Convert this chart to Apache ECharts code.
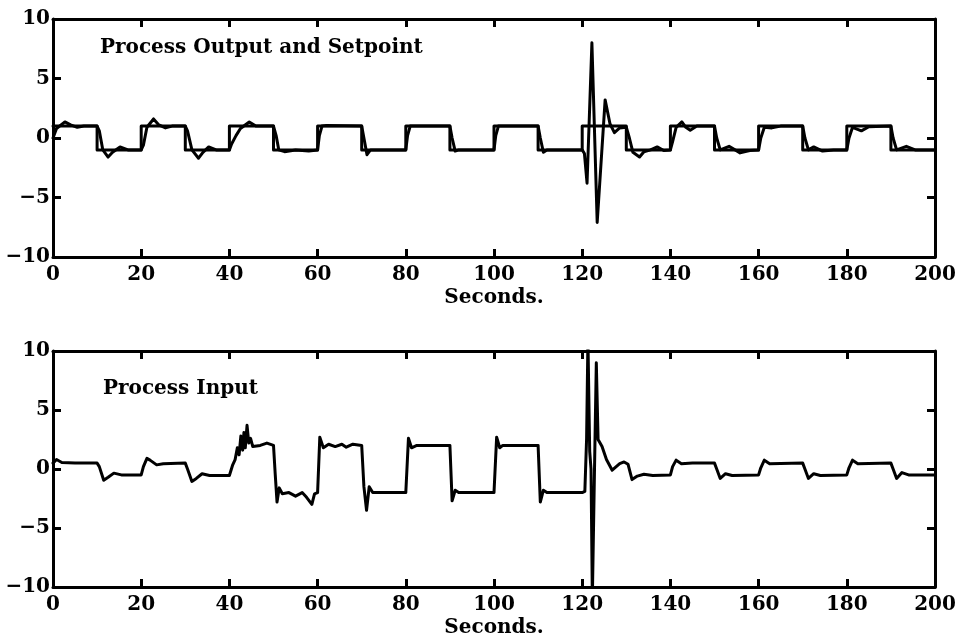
<!DOCTYPE html>
<html>
<head>
<meta charset="utf-8">
<script src="https://cdn.jsdelivr.net/npm/echarts@6/dist/echarts.min.js"></script>
<style>
  html, body { margin: 0; padding: 0; background: #fff; }
  #chart { width: 963px; height: 640px; }
</style>
</head>
<body>
<div id="chart"></div>
<script>
// Setpoint: square wave, level held from each switch time until the next
const setpointSwitchTimes = [0, 10, 20, 30, 40, 50, 60, 70, 80, 90, 100, 110, 120, 130, 140, 150, 160, 170, 180, 190, 200];
const setpointLevels      = [1, -1, 1, -1, 1, -1, 1, -1, 1, -1, 1, -1, 1, -1, 1, -1, 1, -1, 1, -1, -1];

// Process output (seconds, value)
const outputTimes = [
  0, 0.8, 2.7, 4, 5.5, 7, 10, 10.5, 11.3, 12.5, 13.5, 15.2, 17, 20,
  20.5, 21.3, 22.8, 24, 25.5, 27, 30, 30.5, 31.5, 33, 34, 35.3, 37, 40,
  40.5, 41.5, 42.5, 44.5, 46, 50, 50.6, 51.2, 52.5, 55, 58, 60,
  60.4, 61, 62, 70, 70.5, 71.2, 72, 80, 80.4, 81, 90, 90.5, 91.2, 92, 100,
  100.4, 101, 110, 110.5, 111.2, 112, 120,
  120.5, 121.1, 122.2, 123.4, 125.2, 126.3, 127.3, 128.5, 130,
  130.7, 131.5, 133, 134, 135.5, 137, 138.5, 140,
  140.5, 141.3, 142.6, 143.5, 144.5, 146, 150,
  150.5, 151.3, 153.3, 155.8, 158, 160,
  160.5, 161.3, 163, 165, 170,
  170.5, 171.3, 172.5, 174.5, 177, 180,
  180.5, 181.3, 183.3, 185, 190,
  190.5, 191.3, 193.5, 195.5, 200
];
const outputValues = [
  0.0, 0.8, 1.35, 1.1, 0.9, 1.0, 1.0, 0.6, -1.0, -1.6, -1.2, -0.75, -1.0, -1.0,
  -0.6, 0.9, 1.6, 1.1, 0.85, 1.0, 1.0, 0.6, -1.0, -1.7, -1.2, -0.75, -1.0, -1.0,
  -0.5, 0.2, 0.8, 1.35, 1.0, 1.0, 0.2, -1.0, -1.15, -1.0, -1.1, -1.0,
  0.2, 1.0, 1.05, 1.0, 0.0, -1.4, -1.0, -1.0, 0.2, 1.0, 1.0, 0.0, -1.1, -1.0, -1.0,
  0.2, 1.0, 1.0, 0.0, -1.2, -1.0, -1.0,
  -1.3, -3.8, 8.0, -7.1, 3.2, 1.2, 0.45, 0.85, 0.9,
  0.0, -1.2, -1.6, -1.15, -1.0, -0.75, -1.05, -1.0,
  -0.3, 0.9, 1.35, 0.9, 0.65, 1.0, 1.0,
  0.0, -1.0, -0.7, -1.25, -1.05, -1.0,
  0.0, 0.9, 0.85, 1.0, 1.0,
  0.0, -1.0, -0.75, -1.1, -1.0, -1.0,
  0.0, 0.9, 0.6, 0.95, 1.0,
  0.0, -1.0, -0.7, -1.0, -1.0
];

// Process input (seconds, value)
const inputTimes = [
  0, 0.8, 2, 5, 10, 10.5, 11.5, 12.5, 13.8, 15.5, 20,
  20.5, 21.3, 22, 23.5, 25, 30, 30.5, 31.5, 32.5, 33.8, 35.5, 40,
  40.7, 41.3, 41.8, 42.2, 42.6, 43.0, 43.3, 43.6, 44.0, 44.4, 44.8, 45.3, 47, 48.5, 50,
  50.4, 50.8, 51.3, 52, 53.5, 55, 56.5, 57.5, 58.7, 59.3, 60,
  60.5, 61.3, 62.5, 64, 65.5, 66.5, 68, 70,
  70.5, 71.1, 71.7, 72.5, 80, 80.6, 81.3, 82.5, 90,
  90.5, 91.2, 92, 100, 100.6, 101.3, 102, 110,
  110.5, 111.2, 112, 120,
  120.6, 121.0, 121.3, 121.7, 122.0, 122.3, 122.8, 123.2, 123.6, 124.5, 125.5, 126.8, 128.5, 129.5, 130.4,
  131.3, 132.5, 134, 136, 140,
  140.5, 141.3, 142.5, 145, 150,
  150.5, 151.3, 152.5, 154, 160,
  160.5, 161.3, 162.5, 170,
  170.5, 171.3, 172.5, 174, 180,
  180.5, 181.3, 182.5, 190,
  190.5, 191.3, 192.5, 194, 200
];
const inputValues = [
  0.5, 0.8, 0.55, 0.5, 0.5, 0.2, -0.95, -0.7, -0.35, -0.5, -0.5,
  0.2, 0.9, 0.75, 0.35, 0.45, 0.5, 0.0, -1.05, -0.8, -0.4, -0.55, -0.55,
  0.3, 0.8, 1.8, 1.2, 2.8, 1.6, 3.1, 1.8, 3.7, 2.2, 2.6, 1.9, 2.0, 2.2, 2.0,
  -0.5, -2.8, -1.6, -2.1, -2.0, -2.3, -2.0, -2.4, -3.0, -2.1, -2.0,
  2.7, 1.8, 2.1, 1.9, 2.1, 1.85, 2.1, 2.0,
  -1.5, -3.5, -1.5, -2.0, -2.0, 2.6, 1.8, 2.0, 2.0,
  -2.7, -1.8, -2.0, -2.0, 2.7, 1.8, 2.0, 2.0,
  -2.8, -1.8, -2.0, -2.0,
  -1.9, 2.6, 11.0, 1.5, 0.0, -11.0, 0.2, 9.0, 2.5, 1.9, 0.8, -0.1, 0.45, 0.6, 0.4,
  -0.9, -0.6, -0.45, -0.55, -0.5,
  0.2, 0.75, 0.45, 0.5, 0.5,
  0.0, -0.8, -0.4, -0.55, -0.5,
  0.1, 0.75, 0.45, 0.5,
  0.0, -0.8, -0.4, -0.55, -0.5,
  0.1, 0.75, 0.45, 0.5,
  0.0, -0.8, -0.3, -0.5, -0.5
];

const xTickStep = 20;
const yTickStep = 5;

const pairs = (xs, ys) => xs.map((x, i) => [x, ys[i]]);

const FONT = 'DejaVu Serif';
const INK = '#000';

const grids = [
  { left: 53, right: 28, top: 19, height: 238 },
  { left: 53, right: 28, top: 351, height: 236 }
];

// fresh style objects for each axis
const frameLine = () => ({ show: true, onZero: false, lineStyle: { color: INK, width: 3 } });
const innerTick = () => ({ show: true, inside: true, length: 8, lineStyle: { color: INK, width: 3 } });

function bottomAxis(gi) {
  return {
    type: 'value', gridIndex: gi,
    min: 0, max: 200, interval: xTickStep,
    name: 'Seconds.', nameLocation: 'middle', nameGap: 31,
    nameTextStyle: { fontFamily: FONT, fontWeight: 'bold', fontSize: 20, color: INK },
    axisLine: frameLine(),
    axisTick: innerTick(),
    axisLabel: { show: true, margin: 8, fontFamily: FONT, fontWeight: 'bold', fontSize: 20, color: INK },
    splitLine: { show: false }
  };
}
function topAxis(gi) {
  return {
    type: 'value', gridIndex: gi, position: 'top',
    min: 0, max: 200, interval: xTickStep,
    axisLine: frameLine(),
    axisTick: innerTick(),
    axisLabel: { show: false },
    splitLine: { show: false }
  };
}
function leftAxis(gi) {
  return {
    type: 'value', gridIndex: gi,
    min: -10, max: 10, interval: yTickStep,
    axisLine: frameLine(),
    axisTick: innerTick(),
    axisLabel: {
      show: true, margin: 3, fontFamily: FONT, fontWeight: 'bold', fontSize: 20, color: INK,
      formatter: v => String(v).replace('-', '\u2212')
    },
    splitLine: { show: false }
  };
}
function rightAxis(gi) {
  return {
    type: 'value', gridIndex: gi, position: 'right',
    min: -10, max: 10, interval: yTickStep,
    axisLine: frameLine(),
    axisTick: innerTick(),
    axisLabel: { show: false },
    splitLine: { show: false }
  };
}

const lineStyle = () => ({ color: INK, width: 3, join: 'round', cap: 'round' });

const chart = echarts.init(document.getElementById('chart'));
chart.setOption({
  backgroundColor: '#fff',
  animation: false,
  grid: grids,
  xAxis: [bottomAxis(0), topAxis(0), bottomAxis(1), topAxis(1)],
  yAxis: [leftAxis(0), rightAxis(0), leftAxis(1), rightAxis(1)],
  graphic: [
    {
      type: 'text', left: 100, top: 38, silent: true,
      style: { text: 'Process Output and Setpoint', font: 'bold 20px "DejaVu Serif"', fill: INK }
    },
    {
      type: 'text', left: 103, top: 379, silent: true,
      style: { text: 'Process Input', font: 'bold 20px "DejaVu Serif"', fill: INK }
    }
  ],
  series: [
    {
      name: 'Setpoint', type: 'line', xAxisIndex: 0, yAxisIndex: 0,
      step: 'end', showSymbol: false, clip: true,
      lineStyle: lineStyle(),
      data: pairs(setpointSwitchTimes, setpointLevels)
    },
    {
      name: 'Process Output', type: 'line', xAxisIndex: 0, yAxisIndex: 0,
      showSymbol: false, clip: true,
      lineStyle: lineStyle(),
      data: pairs(outputTimes, outputValues)
    },
    {
      name: 'Process Input', type: 'line', xAxisIndex: 2, yAxisIndex: 2,
      showSymbol: false, clip: true,
      lineStyle: lineStyle(),
      data: pairs(inputTimes, inputValues)
    }
  ]
});
</script>
</body>
</html>
